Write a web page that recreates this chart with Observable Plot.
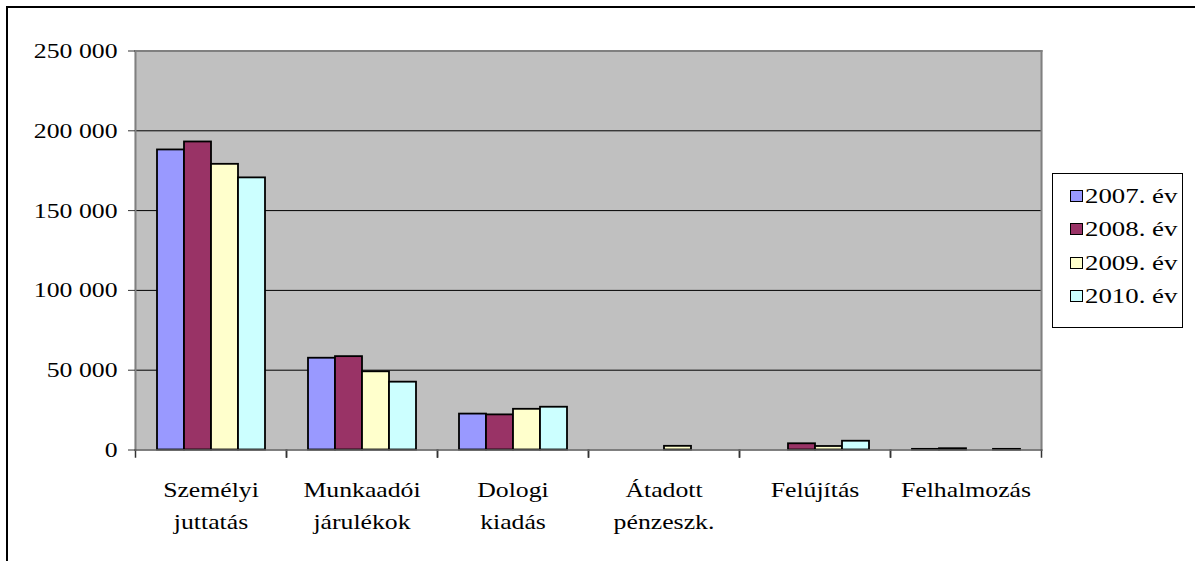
<!DOCTYPE html>
<html>
<head>
<meta charset="utf-8">
<script src="https://cdn.jsdelivr.net/npm/d3@7"></script>
<script src="https://cdn.jsdelivr.net/npm/@observablehq/plot@0.6"></script>
<style>
  html, body { margin: 0; padding: 0; background: #fff; overflow: hidden; }
  #wrap { position: relative; width: 1195px; height: 561px; }
  #outer { position: absolute; left: 6px; top: 6px; width: 1300px; height: 700px; border-left: 2px solid #000; border-top: 2px solid #000; }
  #legend { position: absolute; left: 1052px; top: 173px; width: 131px; height: 155px; border: 1px solid #000; background: #fff; box-sizing: border-box; padding-top: 5px; font-family: "Liberation Serif", "Times New Roman", serif; font-size: 22px; }
  .row { height: 33.5px; display: flex; align-items: center; padding-left: 17px; }
  .sw { width: 11px; height: 10px; border: 1.5px solid #000; margin-right: 2px; flex: none; }
  .lt { display: inline-block; transform: scaleX(1.22); transform-origin: left center; line-height: 1; }
  svg text { font-family: "Liberation Serif", "Times New Roman", serif; }
</style>
</head>
<body>
<div id="wrap"><div id="outer"></div></div>
<script>
const categories = ["Személyi juttatás", "Munkaadói járulékok", "Dologi kiadás", "Átadott pénzeszk.", "Felújítás", "Felhalmozás"];
const categoryLabels = ["Személyi\njuttatás", "Munkaadói\njárulékok", "Dologi\nkiadás", "Átadott\npénzeszk.", "Felújítás", "Felhalmozás"];
const years = ["2007. év", "2008. év", "2009. év", "2010. év"];
const v2007 = [188000, 57500, 22500, 0, 0, 400];
const v2008 = [193000, 58500, 22000, 0, 3900, 800];
const v2009 = [179000, 49000, 25500, 2300, 2200, 0];
const v2010 = [170500, 42500, 26800, 0, 5500, 400];
const yTicks = [0, 50000, 100000, 150000, 200000, 250000];
const gridTicks = [50000, 100000, 150000, 200000];
const colors = ["#9999FF", "#993366", "#FFFFCC", "#CCFFFF"];

const series = [v2007, v2008, v2009, v2010];
const data = categories.flatMap((c, i) => years.map((y, j) => ({category: c, year: y, value: series[j][i]})));
const fmt = d3.formatLocale({thousands: " ", grouping: [3], decimal: ",", currency: ["", ""]}).format(",");

const plot = Plot.plot({
  width: 1195,
  height: 561,
  marginLeft: 135,
  marginRight: 154,
  marginTop: 50.5,
  marginBottom: 111.5,
  style: {fontFamily: "'Liberation Serif', 'Times New Roman', serif", fontSize: "22px", color: "#000", background: "transparent"},
  fx: {domain: categories, paddingInner: 0, paddingOuter: 0, label: null},
  x: {domain: years, paddingInner: 0, paddingOuter: 0.75, axis: null},
  y: {domain: [0, 250000], label: null},
  color: {domain: years, range: colors},
  marks: [
    Plot.frame({fill: "#C0C0C0", stroke: "#C0C0C0", strokeWidth: 1.5}),
    Plot.gridY(gridTicks, {stroke: "#000", strokeOpacity: 1, strokeWidth: 1}),
    Plot.frame({anchor: "top", stroke: "#808080", strokeWidth: 2}),
    Plot.frame({anchor: "left", stroke: "#808080", strokeWidth: 2, fx: () => categories[0]}),
    Plot.frame({anchor: "right", stroke: "#808080", strokeWidth: 2, fx: () => categories[categories.length - 1]}),
    Plot.frame({anchor: "left", stroke: "#333", strokeWidth: 1.5, insetTop: 399, insetBottom: -7}),
    Plot.frame({anchor: "right", stroke: "#333", strokeWidth: 1.5, insetTop: 399, insetBottom: -7}),
    Plot.barY(data, {filter: d => d.value > 0, fx: "category", x: "year", y: "value", fill: "year", stroke: "#000", strokeWidth: 1.8}),
    Plot.frame({anchor: "bottom", stroke: "#666", strokeWidth: 1.5}),
    Plot.axisY({ticks: yTicks, tickSize: 7, tickPadding: 11, tickFormat: fmt, stroke: "#333"}),
    Plot.axisFx({anchor: "bottom", tickSize: 0, tickPadding: 24.7, lineHeight: 1.44, tickFormat: d => categoryLabels[categories.indexOf(d)]})
  ]
});
plot.style.position = "absolute";
plot.style.left = "0px";
plot.style.top = "0px";
plot.querySelectorAll("text").forEach(t => {
  const tr = t.getAttribute("transform") || "";
  t.setAttribute("transform", tr + " scale(1.17,1)");
});
document.getElementById("wrap").appendChild(plot);

const legend = document.createElement("div");
legend.id = "legend";
years.forEach((y, i) => {
  const row = document.createElement("div");
  row.className = "row";
  const sw = document.createElement("span");
  sw.className = "sw";
  sw.style.background = colors[i];
  const lt = document.createElement("span");
  lt.className = "lt";
  lt.textContent = y;
  row.appendChild(sw);
  row.appendChild(lt);
  legend.appendChild(row);
});
document.getElementById("wrap").appendChild(legend);
</script>
</body>
</html>
